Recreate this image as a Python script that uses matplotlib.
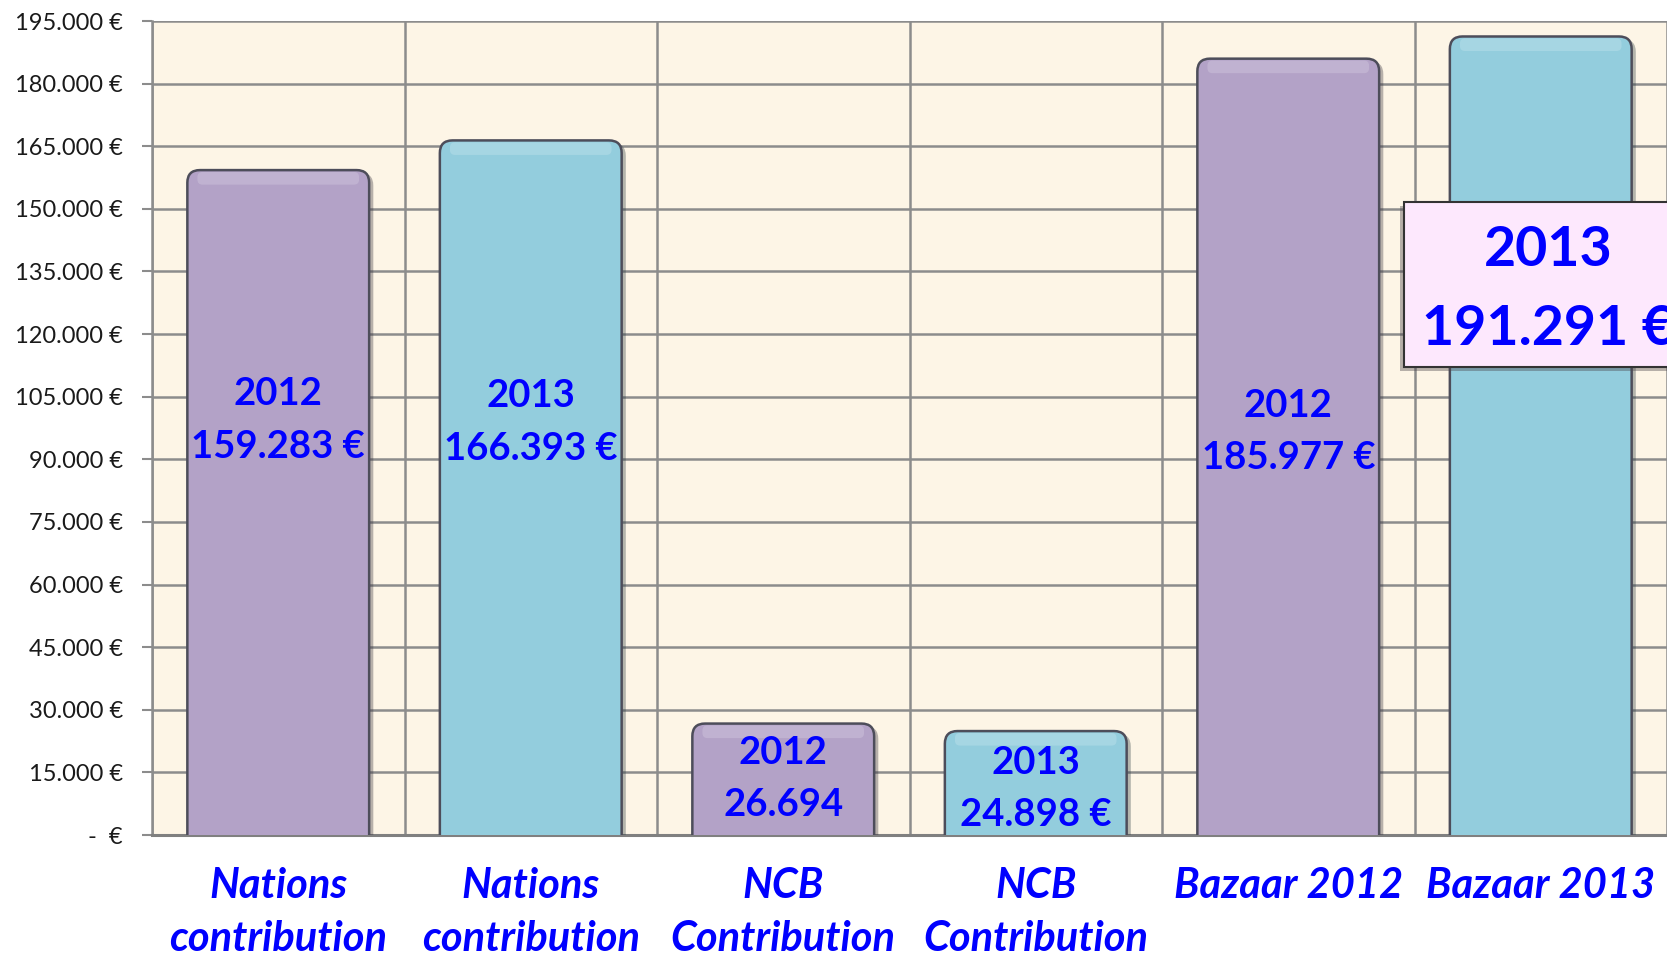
import numpy as np
import matplotlib.pyplot as plt
from matplotlib.patches import FancyBboxPatch, Rectangle
import matplotlib.patheffects as pe

plt.rcParams['font.family'] = ['Lato', 'DejaVu Sans']

categories = ["Nations\ncontribution", "Nations\ncontribution", "NCB\nContribution",
              "NCB\nContribution", "Bazaar 2012", "Bazaar 2013"]
values = [159283, 166393, 26694, 24898, 185977, 191291]
years = ["2012", "2013", "2012", "2013", "2012", "2013"]
value_text = ["159.283 €", "166.393 €", "26.694", "24.898 €", "185.977 €", "191.291 €"]
label_y = [99300, 98800, 13400, 11000, 96600, None]
yticks = np.arange(0, 195001, 15000)
ytick_labels = ["-  €" if v == 0 else f"{v:,.0f} €".replace(",", ".") for v in yticks]

purple = "#B3A2C7"
cyan = "#93CDDD"
blue = "#0000FF"
grid_c = "#8C8C8C"

fig = plt.figure(figsize=(16.67, 9.57), dpi=100)
ax = fig.add_axes([152 / 1667, 1 - 835 / 957, 1 - 152 / 1667, (835 - 21) / 957])
ax.set_facecolor("#FDF5E6")
ax.set_xlim(-0.5, 5.5)
ax.set_ylim(0, 195000)

x = np.arange(len(values))
colors = [purple, cyan] * 3
bars = ax.bar(x, values, width=0.72, color="none", edgecolor="none", zorder=3)

# rounded bars built from the bar geometry
p0, p1 = ax.transData.transform([(0, 0), (1, 1)])
aspect = (p1[0] - p0[0]) / (p1[1] - p0[1])
r = 0.05
for b, c in zip(bars, colors):
    ry = r * aspect
    fb = FancyBboxPatch((b.get_x() + r, -ry), b.get_width() - 2 * r, b.get_height(),
                        boxstyle=f"round,pad={r},rounding_size={r}", mutation_aspect=aspect,
                        facecolor=c, edgecolor="#4d4d5a", linewidth=1.8, zorder=3,
                        path_effects=[pe.withSimplePatchShadow(offset=(3, -2), alpha=0.35)])
    ax.add_patch(fb)
    # soft top highlight
    hl = FancyBboxPatch((b.get_x() + r + 0.01, b.get_height() - ry * 0.75), b.get_width() - 2 * r - 0.02, ry * 0.2,
                        boxstyle=f"round,pad={r * 0.4},rounding_size={r * 0.4}", mutation_aspect=aspect,
                        facecolor="white", edgecolor="none", alpha=0.18, zorder=3.5)
    ax.add_patch(hl)

for i in range(5):
    ax.text(x[i], label_y[i], years[i] + "\n" + value_text[i], ha="center", va="center",
            color=blue, fontsize=27.5, fontweight="bold", linespacing=1.65, zorder=5)

# highlighted box for the last bar (its text runs off the right edge, as in the original)
box = Rectangle((4.46, 112100), 1.3, 151650 - 112100, facecolor="#FDE8FD", edgecolor="#333333",
                linewidth=1.5, zorder=6, clip_on=False,
                path_effects=[pe.withSimplePatchShadow(offset=(-3, -3), alpha=0.4)])
ax.add_patch(box)
ax.text(5.03, 130700, years[5] + "\n" + value_text[5], ha="center", va="center", color=blue,
        fontsize=40, fontweight="bold", linespacing=1.72, zorder=7, clip_on=False)

ax.set_yticks(yticks)
ax.set_yticklabels(ytick_labels, fontsize=17, color="#1a1a1a")
ax.set_xticks(x)
ax.set_xticklabels(categories, fontsize=30, fontweight="bold", fontstyle="italic", color=blue,
                   linespacing=1.48)
ax.set_xticks(np.arange(-0.5, 6, 1), minor=True)
ax.tick_params(axis="x", which="both", length=0, pad=23)
ax.tick_params(axis="y", length=7, width=1.5, color=grid_c, pad=14)

ax.grid(axis="y", which="major", color=grid_c, linewidth=1.8, zorder=1)
ax.grid(axis="x", which="minor", color=grid_c, linewidth=1.8, zorder=1)
ax.grid(axis="x", which="major", visible=False)
ax.set_axisbelow(True)
for s in ["top", "right"]:
    ax.spines[s].set_visible(False)
ax.spines["left"].set_color(grid_c)
ax.spines["left"].set_linewidth(1.8)
ax.spines["bottom"].set_color("#808080")
ax.spines["bottom"].set_linewidth(2.2)

fig.savefig("out.png", dpi=100)
